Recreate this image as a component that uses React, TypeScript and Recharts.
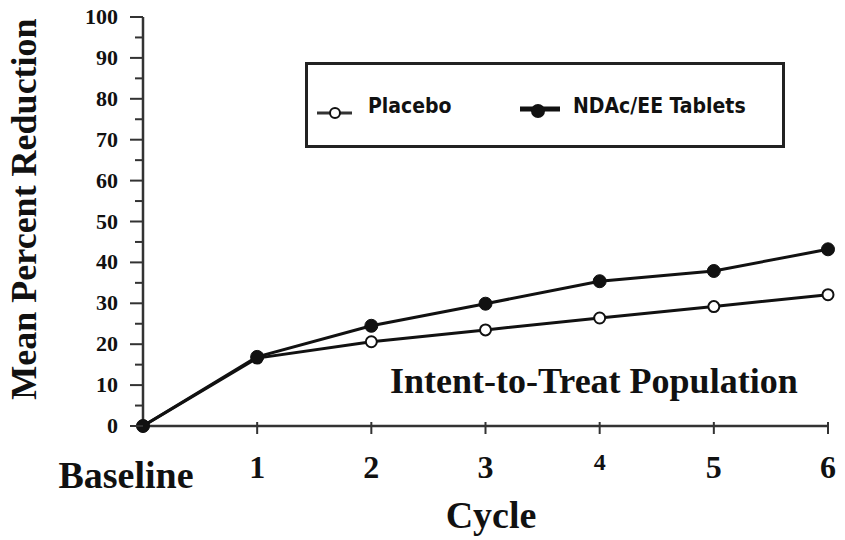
import React from 'react';
import { LineChart, Line, XAxis, YAxis, Legend } from 'recharts';

const cycles = [0, 1, 2, 3, 4, 5, 6];
const cycleLabels = ['Baseline', '1', '2', '3', '4', '5', '6'];
const placebo = [0, 16.6, 20.6, 23.5, 26.4, 29.2, 32.1];
const ndac = [0, 16.9, 24.5, 29.9, 35.4, 37.9, 43.2];
const yTicks = [0, 5, 10, 15, 20, 25, 30, 35, 40, 45, 50, 55, 60, 65, 70, 75, 80, 85, 90, 95, 100];
const seriesNames = ['Placebo', 'NDAc/EE Tablets'];

const data = cycles.map((c, i) => ({ cycle: c, placebo: placebo[i], ndac: ndac[i] }));

const AXIS = '#333';
const INK = '#111';
const SERIF = '"Liberation Serif", "Times New Roman", serif';

const YTick = (props: any) => {
  const { x, y, payload } = props;
  const v = payload.value;
  const major = v % 10 === 0;
  return (
    <g>
      <line x1={x - (major ? 13 : 8)} x2={x} y1={y} y2={y} stroke={AXIS} strokeWidth={2} />
      {major && (
        <text x={x - 25} y={y} dy={7} textAnchor="end" style={{ fontFamily: SERIF }} fontWeight="bold" fontSize={22} fill={INK}>
          {v}
        </text>
      )}
    </g>
  );
};

const XTick = (props: any) => {
  const { x, y, payload } = props;
  const i = cycles.indexOf(payload.value);
  const label = cycleLabels[i];
  let dx = 0;
  let dy = 52;
  let size = 32;
  if (i === 0) {
    dx = -17;
    dy = 62;
    size = 38;
  } else if (label === '4') {
    dy = 44;
    size = 24;
  }
  return (
    <g>
      {i > 0 && <line x1={x} x2={x} y1={y - 4} y2={y + 8} stroke={AXIS} strokeWidth={2} />}
      <text x={x + dx} y={y} dy={dy} textAnchor="middle" style={{ fontFamily: SERIF }} fontWeight="bold" fontSize={size} fill={INK}>
        {label}
      </text>
    </g>
  );
};

const YLabel = () => (
  <text
    transform="translate(36, 209) rotate(-90)"
    textAnchor="middle"
    style={{ fontFamily: SERIF }}
    fontWeight="bold"
    fontSize={36}
    fill={INK}
  >
    Mean Percent Reduction
  </text>
);

const XLabels = () => (
  <g>
    <text x={491} y={528} textAnchor="middle" style={{ fontFamily: SERIF }} fontWeight="bold" fontSize={38} fill={INK}>
      Cycle
    </text>
    <text x={390} y={393} style={{ fontFamily: SERIF }} fontWeight="bold" fontSize={36} fill={INK}>
      Intent-to-Treat Population
    </text>
  </g>
);

const LegendBox = () => (
  <div
    style={{
      width: 480,
      height: 86,
      border: '3px solid #222',
      boxSizing: 'border-box',
      background: '#fff',
      position: 'relative',
    }}
  >
    <svg width={480} height={86} style={{ position: 'absolute', left: -3, top: -3 }}>
      <line x1={12} x2={47} y1={51} y2={51} stroke={AXIS} strokeWidth={3} />
      <circle cx={30} cy={51} r={5} fill="#fff" stroke={INK} strokeWidth={2} />
      <text x={63} y={51} fontFamily='"DejaVu Sans Condensed", "DejaVu Sans", sans-serif' fontWeight="bold" fontSize={21} fill={INK}>
        {seriesNames[0]}
      </text>
      <line x1={215} x2={255} y1={47} y2={47} stroke={INK} strokeWidth={5} />
      <circle cx={233} cy={49} r={7} fill={INK} />
      <text x={268} y={51} fontFamily='"DejaVu Sans Condensed", "DejaVu Sans", sans-serif' fontWeight="bold" fontSize={21} fill={INK}>
        {seriesNames[1]}
      </text>
    </svg>
  </div>
);

export default function App() {
  return (
    <div style={{ position: 'absolute', left: 0, top: 0, width: 845, height: 540, background: '#fff' }}>
      <LineChart width={845} height={540} data={data} margin={{ top: 17, right: 17, left: 0, bottom: 0 }}>
        <XAxis
          dataKey="cycle"
          type="number"
          domain={[0, 6]}
          ticks={cycles}
          height={114}
          tickSize={0}
          tickMargin={0}
          tickLine={false}
          tick={<XTick />}
          axisLine={{ stroke: AXIS, strokeWidth: 2.5 }}
          label={<XLabels />}
        />
        <YAxis
          type="number"
          domain={[0, 100]}
          ticks={yTicks}
          width={143}
          tickSize={0}
          tickMargin={0}
          tickLine={false}
          tick={<YTick />}
          interval={0}
          axisLine={{ stroke: AXIS, strokeWidth: 2.5 }}
          label={<YLabel />}
        />
        <Legend
          layout="horizontal"
          verticalAlign="middle"
          align="center"
          content={<LegendBox />}
          wrapperStyle={{ position: 'absolute', left: 305, top: 62, width: 480, height: 86 }}
        />
        <Line
          type="linear"
          dataKey="placebo"
          name={seriesNames[0]}
          stroke={INK}
          strokeWidth={3}
          dot={{ r: 5.5, fill: '#fff', stroke: INK, strokeWidth: 2 }}
          isAnimationActive={false}
        />
        <Line
          type="linear"
          dataKey="ndac"
          name={seriesNames[1]}
          stroke={INK}
          strokeWidth={3}
          dot={{ r: 6.5, fill: INK, stroke: INK, strokeWidth: 1 }}
          isAnimationActive={false}
        />
      </LineChart>
    </div>
  );
}
